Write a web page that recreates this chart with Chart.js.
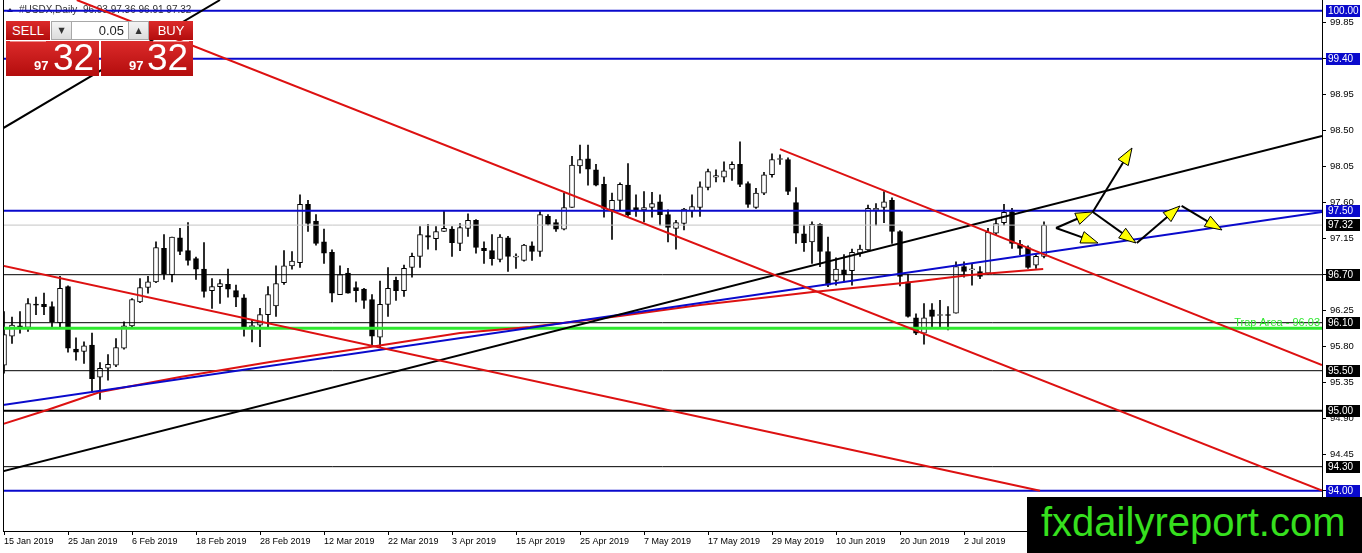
<!DOCTYPE html>
<html>
<head>
<meta charset="utf-8">
<script src="https://cdn.jsdelivr.net/npm/chart.js@4.4.0/dist/chart.umd.min.js"></script>
<style>
html, body { margin: 0; padding: 0; background: #fff; }
#wrap { position: relative; width: 1362px; height: 553px; overflow: hidden; }
#usdx { position: absolute; left: 0; top: 0; }
.red { position: absolute; background: linear-gradient(#dc2a2a, #b30d0d); color: #fff; font-family: 'Liberation Sans', Arial, sans-serif; }
.btn { top: 21px; height: 19px; width: 44px; font-size: 13px; line-height: 19px; text-align: center; }
.gray { position: absolute; top: 21px; height: 17px; width: 19px; background: linear-gradient(#f4f4f4, #dcdcdc); border: 1px solid #a8a8a8; font: 8px 'DejaVu Sans', sans-serif; color: #333; text-align: center; line-height: 17px; }
.lot { position: absolute; left: 72px; top: 21px; width: 52px; height: 17px; background: #fff; border: 1px solid #a8a8a8; border-left: 0; border-right: 0; font: 13px 'Liberation Sans', Arial, sans-serif; color: #222; text-align: right; padding-right: 4px; line-height: 17px; }
.box { top: 41px; height: 35px; }
.small { position: absolute; top: 56px; font: bold 13px 'Liberation Sans', Arial, sans-serif; }
.big { position: absolute; top: 38px; font: 37px 'Liberation Sans Narrow', 'Liberation Sans', Arial, sans-serif; line-height: 40px; }
#brand { position: absolute; left: 1027px; top: 497px; width: 335px; height: 56px; background: #000; }
#brand span { position: absolute; left: 14px; top: 2px; font: 40px 'Liberation Sans', Arial, sans-serif; color: #36e01e; line-height: 46px; white-space: nowrap; }
</style>
</head>
<body>
<div id="wrap">
  <canvas id="usdx" width="1362" height="553"></canvas>

  <div class="red btn" style="left:6px;">SELL</div>
  <div class="gray" style="left:51px;">&#9660;</div>
  <div class="lot">0.05</div>
  <div class="gray" style="left:128px;">&#9650;</div>
  <div class="red btn" style="left:149px;">BUY</div>
  <div class="red box" style="left:6px; width:93px;">
    <div style="position:absolute; left:4px; top:0; width:36px; height:1px; background:rgba(255,255,255,0.45);"></div>
    <span class="small" style="left:28px; top:17px;">97</span>
    <span class="big" style="left:47px; top:-3px;">32</span>
  </div>
  <div class="red box" style="left:101px; width:92px;">
    <div style="position:absolute; left:52px; top:0; width:36px; height:1px; background:rgba(255,255,255,0.45);"></div>
    <span class="small" style="left:28px; top:17px;">97</span>
    <span class="big" style="left:46px; top:-3px;">32</span>
  </div>

  <div id="brand"><span>fxdailyreport.com</span></div>
</div>

<script>
// tick labels (every 8th trading day)
const xTickIdx = [0, 8, 16, 24, 32, 40, 48, 56, 64, 72, 80, 88, 96, 104, 112, 120];
const xTickLabels = ["15 Jan 2019", "25 Jan 2019", "6 Feb 2019", "18 Feb 2019", "28 Feb 2019", "12 Mar 2019",
    "22 Mar 2019", "3 Apr 2019", "15 Apr 2019", "25 Apr 2019", "7 May 2019", "17 May 2019",
    "29 May 2019", "10 Jun 2019", "20 Jun 2019", "2 Jul 2019"];
const yTicks = [94.00, 94.45, 94.90, 95.35, 95.80, 96.25, 96.70, 97.15, 97.60, 98.05, 98.50, 98.95, 99.40, 99.85];

// daily candles, 15 Jan 2019 .. 16 Jul 2019
const opens = [95.57, 95.93, 96.06, 96.04, 96.33, 96.33, 96.30, 96.10, 96.55, 95.77,
    95.74, 95.82, 95.42, 95.53, 95.57, 95.78, 96.06, 96.36, 96.54, 96.61,
    97.03, 96.70, 97.16, 97.00, 96.90, 96.77, 96.50, 96.55, 96.58, 96.50,
    96.41, 96.05, 96.07, 96.20, 96.31, 96.60, 96.81, 96.85, 97.58, 97.37,
    97.11, 96.98, 96.45, 96.72, 96.54, 96.52, 96.39, 95.92, 96.33, 96.63,
    96.50, 96.79, 96.93, 97.19, 97.15, 97.24, 97.27, 97.09, 97.28, 97.38,
    97.03, 97.00, 96.89, 97.16, 96.92, 96.88, 97.06, 96.99, 97.43, 97.35,
    97.27, 97.54, 98.06, 98.15, 98.01, 97.83, 97.51, 97.63, 97.82, 97.54,
    97.51, 97.54, 97.61, 97.45, 97.28, 97.34, 97.50, 97.54, 97.79, 97.92,
    97.92, 98.02, 98.08, 97.84, 97.54, 97.72, 97.95, 98.14, 98.14, 97.60,
    97.21, 97.11, 97.33, 96.99, 96.63, 96.76, 96.75, 96.97, 97.01, 97.51,
    97.54, 97.63, 97.24, 96.61, 96.16, 95.97, 96.26, 96.19, 96.20, 96.22,
    96.80, 96.76, 96.74, 96.72, 97.22, 97.35, 97.49, 97.08, 97.04, 96.82,
    96.93];
const highs = [96.24, 96.17, 96.24, 96.40, 96.42, 96.47, 96.36, 96.68, 96.56, 95.91,
    95.86, 95.97, 95.60, 95.70, 95.90, 96.11, 96.40, 96.65, 96.68, 97.11,
    97.20, 97.17, 97.28, 97.35, 96.92, 97.10, 96.65, 96.64, 96.77, 96.57,
    96.45, 96.14, 96.28, 96.55, 96.81, 97.00, 96.99, 97.70, 97.63, 97.45,
    97.27, 97.01, 96.81, 96.78, 96.61, 96.53, 96.45, 96.62, 96.79, 96.67,
    96.82, 96.97, 97.30, 97.33, 97.30, 97.50, 97.30, 97.34, 97.46, 97.39,
    97.11, 97.20, 97.20, 97.18, 96.96, 97.08, 97.11, 97.49, 97.45, 97.39,
    97.72, 98.18, 98.32, 98.32, 98.08, 97.92, 97.72, 97.85, 98.09, 97.70,
    97.74, 97.73, 97.70, 97.51, 97.38, 97.53, 97.70, 97.86, 98.02, 98.01,
    98.11, 98.11, 98.36, 97.86, 97.78, 97.98, 98.21, 98.20, 98.16, 97.79,
    97.32, 97.36, 97.34, 97.17, 96.91, 96.95, 97.02, 97.07, 97.57, 97.59,
    97.74, 97.66, 97.25, 96.70, 96.21, 96.34, 96.34, 96.38, 96.30, 96.86,
    96.86, 96.84, 96.80, 97.28, 97.40, 97.58, 97.53, 97.13, 97.06, 96.95,
    97.36];
const lows = [95.47, 95.84, 95.97, 95.99, 96.20, 96.20, 96.05, 96.05, 95.73, 95.63,
    95.59, 95.23, 95.14, 95.38, 95.55, 95.77, 96.04, 96.35, 96.47, 96.60,
    96.64, 96.61, 96.95, 96.82, 96.64, 96.42, 96.28, 96.34, 96.42, 96.30,
    95.93, 95.86, 95.80, 96.05, 96.18, 96.58, 96.77, 96.79, 97.24, 97.07,
    96.84, 96.36, 96.45, 96.47, 96.36, 96.28, 95.81, 95.80, 96.18, 96.38,
    96.43, 96.67, 96.79, 97.02, 97.01, 97.24, 96.93, 97.00, 97.18, 96.97,
    96.84, 96.82, 96.86, 96.74, 96.78, 96.87, 96.88, 96.93, 97.32, 97.24,
    97.26, 97.54, 97.97, 97.82, 97.81, 97.42, 97.14, 97.50, 97.43, 97.43,
    97.36, 97.42, 97.32, 97.11, 97.02, 97.26, 97.42, 97.43, 97.76, 97.86,
    97.86, 97.88, 97.80, 97.54, 97.53, 97.70, 97.92, 98.08, 97.70, 97.09,
    96.99, 96.84, 96.80, 96.55, 96.57, 96.61, 96.57, 96.93, 96.99, 97.32,
    97.35, 97.09, 96.56, 96.17, 95.95, 95.83, 96.05, 96.05, 96.01, 96.22,
    96.67, 96.57, 96.65, 96.70, 97.20, 97.32, 97.03, 96.95, 96.78, 96.78,
    96.91];
const closes = [95.95, 96.07, 96.04, 96.34, 96.32, 96.30, 96.11, 96.53, 95.78, 95.73,
    95.81, 95.40, 95.53, 95.58, 95.79, 96.06, 96.39, 96.54, 96.61, 97.04,
    96.71, 97.17, 96.99, 96.88, 96.77, 96.49, 96.55, 96.59, 96.52, 96.42,
    96.04, 96.06, 96.20, 96.45, 96.59, 96.81, 96.87, 97.58, 97.34, 97.09,
    96.97, 96.47, 96.70, 96.47, 96.50, 96.38, 95.93, 96.33, 96.53, 96.50,
    96.78, 96.93, 97.20, 97.17, 97.24, 97.28, 97.10, 97.29, 97.38, 97.04,
    97.00, 96.90, 97.17, 96.93, 96.93, 97.07, 96.99, 97.45, 97.33, 97.27,
    97.54, 98.07, 98.14, 98.02, 97.82, 97.53, 97.63, 97.83, 97.45, 97.50,
    97.54, 97.59, 97.45, 97.29, 97.35, 97.52, 97.55, 97.80, 97.99, 97.94,
    98.00, 98.08, 97.83, 97.58, 97.72, 97.95, 98.14, 98.15, 97.74, 97.22,
    97.10, 97.33, 96.99, 96.57, 96.77, 96.70, 96.98, 97.02, 97.53, 97.53,
    97.61, 97.24, 96.68, 96.18, 95.97, 96.16, 96.18, 96.20, 96.19, 96.80,
    96.74, 96.76, 96.68, 97.23, 97.34, 97.48, 97.09, 97.03, 96.79, 96.93,
    97.32];

// horizontal levels
const levels = [100.00, 99.40, 97.50, 97.32, 96.70, 96.10, 96.03, 95.50, 95.00, 94.30, 94.00];
const levelColors = ["#0a0acc", "#0a0acc", "#0a0acc", "#c4c4c4", "#000", "#000", "#2ee82e", "#000", "#000", "#000", "#0a0acc"];
const levelWidths = [2, 2, 2, 1, 1, 1, 3, 1, 2, 1, 2];

// right axis tags
const tagValues = [100.00, 99.40, 97.50, 97.32, 96.70, 96.10, 95.50, 95.00, 94.30, 94.00];
const tagColors = ["#0a0acc", "#0a0acc", "#0a0acc", "#000", "#000", "#000", "#000", "#000", "#000", "#0a0acc"];

// trend lines, [bar index, price]
const redUpper = [[9.1, 100.134], [164.75, 94.0]];
const redLower = [[-0.5, 96.82], [129.5, 94.0]];
const redRight = [[97, 98.27], [164.75, 95.57]];
const blueTrend = [[-0.5, 95.065], [164.75, 97.484]];
const blackTrend = [[-0.5, 94.234], [164.75, 98.434]];
const blackTopLeft = [[-0.5, 98.509], [27, 100.134]];
const redCurve = [[-0.5, 94.821], [5.4, 95.009], [12, 95.234], [22, 95.421], [33.25, 95.609],
    [45.75, 95.796], [57, 95.971], [65.75, 96.046], [77, 96.184], [87, 96.321], [95.75, 96.421],
    [101.1, 96.484], [112.4, 96.596], [120.75, 96.696], [129.9, 96.771]];

// scenario arrows [from index, from price, to index, to price]
const arrows = [[131.5, 97.284, 136.1, 97.484], [131.5, 97.284, 136.75, 97.096],
    [136.1, 97.484, 141, 98.284], [136.1, 97.484, 141.5, 97.096],
    [141.6, 97.096, 147, 97.559], [147.2, 97.559, 152.25, 97.259]];

const headerText = "#USDX,Daily  96.93 97.36 96.91 97.32";
const trapText = "Trap Area - 96.03";

const X_MIN = -0.125, X_MAX = 164.75;
const Y_MIN = 93.496, Y_MAX = 100.134;
const RED = "#dd1111";
const FONT = "'Liberation Sans Narrow', 'Liberation Sans', Arial, sans-serif";

const barIdx = opens.map(function(v, i) { return i; });

function lineSet(pts, color, width, order)
{
    return {
        type: "line",
        data: pts.map(function(p) { return { x: p[0], y: p[1] }; }),
        borderColor: color,
        borderWidth: width,
        pointRadius: 0,
        fill: false,
        tension: 0,
        order: order
    };
}

const datasets = [];

// wicks
datasets.push({
    type: "bar",
    data: barIdx.map(function(i) { return { x: i, y: [lows[i], highs[i]] }; }),
    backgroundColor: "#000",
    barThickness: 1,
    grouped: false,
    order: 20
});
// bodies
datasets.push({
    type: "bar",
    data: barIdx.map(function(i) { return { x: i, y: [opens[i], closes[i]] }; }),
    backgroundColor: barIdx.map(function(i) { return closes[i] >= opens[i] ? "#fff" : "#000"; }),
    borderColor: "#000",
    borderWidth: 1,
    borderSkipped: false,
    barThickness: 5,
    minBarLength: 1,
    grouped: false,
    order: 19
});

levels.forEach(function(lv, k)
{
    datasets.push(lineSet([[X_MIN, lv], [X_MAX, lv]], levelColors[k], levelWidths[k], 10 + k * 0.01));
});

datasets.push(lineSet(redCurve, RED, 2, 5));
datasets.push(lineSet(blueTrend, "#0a0acc", 2, 4.9));
datasets.push(lineSet(blackTrend, "#000", 2, 4.8));
datasets.push(lineSet(blackTopLeft, "#000", 2, 4.7));
datasets.push(lineSet(redUpper, RED, 2, 4.6));
datasets.push(lineSet(redLower, RED, 2, 4.5));
datasets.push(lineSet(redRight, RED, 2, 4.4));

const mtOverlay = {
    id: "mtOverlay",
    beforeDatasetsDraw: function(chart)
    {
        const ctx = chart.ctx;
        ctx.save();
        ctx.fillStyle = "#222";
        ctx.beginPath();
        ctx.moveTo(7, 12); ctx.lineTo(13, 12); ctx.lineTo(10, 8); ctx.closePath();
        ctx.fill();
        ctx.font = "10px 'Liberation Sans', Arial, sans-serif";
        ctx.fillStyle = "#333";
        ctx.textBaseline = "middle";
        ctx.fillText(headerText, 19, 10);
        ctx.restore();
    },
    afterDatasetsDraw: function(chart)
    {
        const ctx = chart.ctx;
        const xs = chart.scales.x, ys = chart.scales.y;
        const area = chart.chartArea;
        ctx.save();

        // left frame line
        ctx.strokeStyle = "#000";
        ctx.lineWidth = 1;
        ctx.beginPath();
        ctx.moveTo(area.left + 0.5, area.top);
        ctx.lineTo(area.left + 0.5, area.bottom);
        ctx.stroke();

        // trap area label
        ctx.font = "11px " + FONT;
        ctx.fillStyle = "#2ee82e";
        ctx.textAlign = "right";
        ctx.textBaseline = "alphabetic";
        ctx.fillText(trapText, area.right - 2, ys.getPixelForValue(96.03) - 2);

        // arrows
        arrows.forEach(function(a)
        {
            const x0 = xs.getPixelForValue(a[0]), y0 = ys.getPixelForValue(a[1]);
            const x1 = xs.getPixelForValue(a[2]), y1 = ys.getPixelForValue(a[3]);
            const ang = Math.atan2(y1 - y0, x1 - x0);
            ctx.strokeStyle = "#000";
            ctx.lineWidth = 2;
            ctx.beginPath();
            ctx.moveTo(x0, y0);
            ctx.lineTo(x1 - Math.cos(ang) * 10, y1 - Math.sin(ang) * 10);
            ctx.stroke();

            const len = 17, half = 6;
            const bx = x1 - Math.cos(ang) * len, by = y1 - Math.sin(ang) * len;
            ctx.beginPath();
            ctx.moveTo(x1, y1);
            ctx.lineTo(bx + Math.sin(ang) * half, by - Math.cos(ang) * half);
            ctx.lineTo(bx - Math.sin(ang) * half, by + Math.cos(ang) * half);
            ctx.closePath();
            ctx.fillStyle = "#ffff00";
            ctx.fill();
            ctx.lineWidth = 1;
            ctx.stroke();
        });
        ctx.restore();
    },
    afterDraw: function(chart)
    {
        const ctx = chart.ctx;
        const ys = chart.scales.y;
        const area = chart.chartArea;
        ctx.save();
        ctx.font = "10px " + FONT;
        ctx.textBaseline = "middle";
        ctx.textAlign = "left";
        tagValues.forEach(function(v, k)
        {
            const y = Math.round(ys.getPixelForValue(v));
            ctx.fillStyle = tagColors[k];
            ctx.fillRect(area.right + 4, y - 6, 34, 12);
            ctx.fillStyle = "#fff";
            ctx.fillText(v.toFixed(2), area.right + 6, y + 0.5);
        });
        ctx.restore();
    }
};

new Chart(document.getElementById("usdx"),
{
    type: "bar",
    data: { datasets: datasets },
    options:
    {
        responsive: false,
        animation: false,
        events: [],
        layout: { padding: { left: 3, top: 0, right: 0, bottom: 0 } },
        plugins:
        {
            legend: { display: false },
            tooltip: { enabled: false },
            title: { display: false }
        },
        scales:
        {
            x:
            {
                type: "linear",
                min: X_MIN,
                max: X_MAX,
                offset: false,
                grid: { display: true, drawOnChartArea: false, drawTicks: true, tickLength: 4, color: "#000", offset: false },
                border: { display: true, color: "#000", width: 1 },
                ticks:
                {
                    autoSkip: false,
                    maxRotation: 0,
                    align: "start",
                    padding: 1,
                    color: "#000",
                    font: { family: FONT, size: 9 },
                    callback: function(value)
                    {
                        const k = xTickIdx.indexOf(value);
                        return k >= 0 ? xTickLabels[k] : "";
                    }
                },
                afterBuildTicks: function(scale)
                {
                    scale.ticks = xTickIdx.map(function(v) { return { value: v }; });
                },
                afterFit: function(scale)
                {
                    scale.height = 22;
                    scale.paddingLeft = 0;
                    scale.paddingRight = 0;
                }
            },
            y:
            {
                type: "linear",
                position: "right",
                min: Y_MIN,
                max: Y_MAX,
                grid: { display: true, drawOnChartArea: false, drawTicks: true, tickLength: 4, color: "#000" },
                border: { display: true, color: "#000", width: 1 },
                ticks:
                {
                    padding: 4,
                    color: "#000",
                    font: { family: FONT, size: 9.5 },
                    callback: function(value) { return Number(value).toFixed(2); }
                },
                afterBuildTicks: function(scale)
                {
                    scale.ticks = yTicks.map(function(v) { return { value: v }; });
                },
                afterFit: function(scale)
                {
                    scale.width = 40;
                    scale.paddingTop = 0;
                    scale.paddingBottom = 0;
                }
            }
        }
    },
    plugins: [mtOverlay]
});
</script>
</body>
</html>
